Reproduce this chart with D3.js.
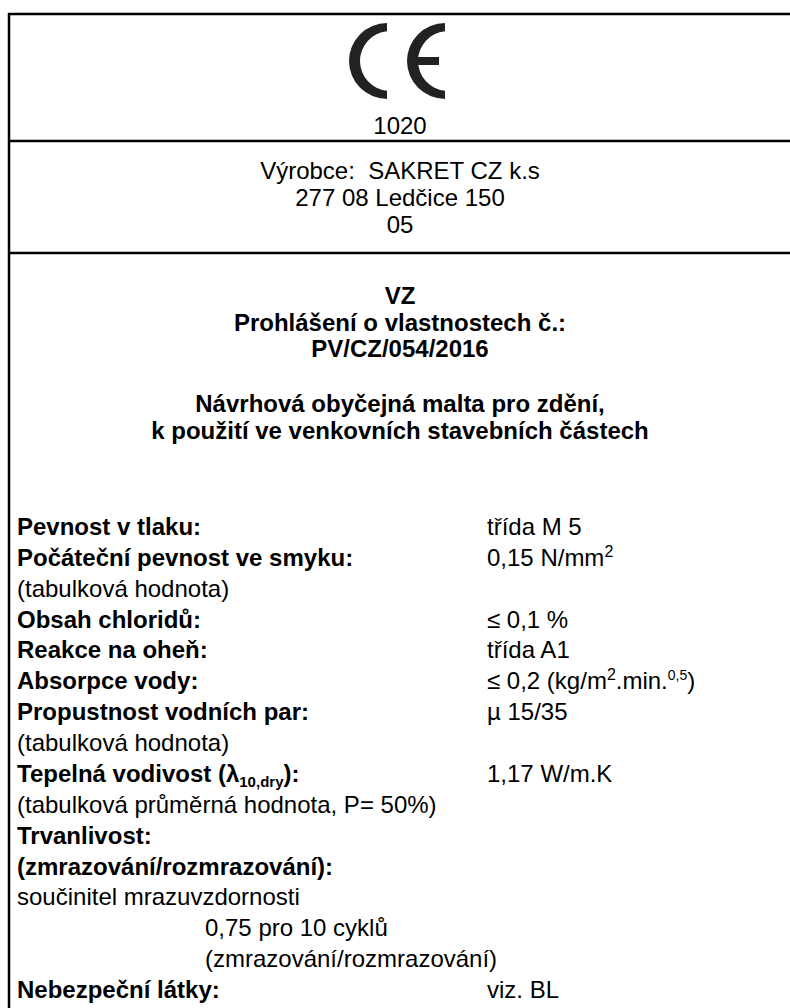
<!DOCTYPE html>
<html>
<head>
<meta charset="utf-8">
<script src="https://cdn.jsdelivr.net/npm/d3@7"></script>
<style>
    body { margin: 0; background: #fff; }
    svg text { font-family: "Liberation Sans", Arial, sans-serif; fill: #000; }
</style>
</head>
<body>
<div id="label"></div>
<script>
// Label content
const notifiedBody = "1020";
const makerLines = ["Výrobce:  SAKRET CZ k.s", "277 08 Ledčice 150", "05"];
const declLines = ["VZ", "Prohlášení o vlastnostech č.:", "PV/CZ/054/2016"];
const productLines = ["Návrhová obyčejná malta pro zdění,", "k použití ve venkovních stavebních částech"];

// property rows: kind = head (bold), note (regular), indent (regular, indented)
const propLabels = [
    "Pevnost v tlaku:",
    "Počáteční pevnost ve smyku:",
    "(tabulková hodnota)",
    "Obsah chloridů:",
    "Reakce na oheň:",
    "Absorpce vody:",
    "Propustnost vodních par:",
    "(tabulková hodnota)",
    "Tepelná vodivost (λ_{10,dry}):",
    "(tabulková průměrná hodnota, P= 50%)",
    "Trvanlivost:",
    "(zmrazování/rozmrazování):",
    "součinitel mrazuvzdornosti",
    "0,75 pro 10 cyklů",
    "(zmrazování/rozmrazování)",
    "Nebezpeční látky:"
];
const propKinds = ["head", "head", "note", "head", "head", "head", "head", "note",
    "head", "note", "head", "head", "note", "indent", "indent", "head"];
const propValues = [
    "třída M 5", "0,15 N/mm^{2}", "", "≤ 0,1 %", "třída A1", "≤ 0,2 (kg/m^{2}.min.^{0,5})",
    "µ 15/35", "", "1,17 W/m.K", "", "", "", "", "", "", "viz. BL"
];

const W = 790, H = 1008;
const fs = 24;

const svg = d3.select("#label").append("svg")
    .attr("width", W).attr("height", H);

// text with ^{sup} and _{sub} parts
function richText(sel, str) {
    const parts = str.split(/(\^\{[^}]*\}|_\{[^}]*\})/).filter(p => p !== "");
    let shift = 0;
    parts.forEach(p => {
        let dy = 0, size = null, t = p;
        if (p.startsWith("^{")) { t = p.slice(2, -1); size = t.length > 1 ? 14 : 16; dy = -9; }
        else if (p.startsWith("_{")) { t = p.slice(2, -1); size = 15; dy = 5; }
        const ts = sel.append("tspan").attr("dy", dy - shift).text(t);
        if (size) ts.style("font-size", size + "px");
        shift = dy;
    });
    if (shift) sel.append("tspan").attr("dy", -shift).text("");
}

// Frame
const frame = svg.append("g").attr("stroke", "#000").attr("stroke-width", 2.5);
frame.append("line").attr("x1", 8).attr("x2", W).attr("y1", 14).attr("y2", 14);
frame.append("line").attr("x1", 9).attr("x2", 9).attr("y1", 13).attr("y2", H);
[141, 253].forEach(y => {
    frame.append("line").attr("x1", 8).attr("x2", W).attr("y1", y).attr("y2", y);
});

// CE mark: left half of a ring, inner circle pushed right so the sides are heavier
function halfRing(R, r, d) {
    const p = d3.path();
    const a = Math.atan2(Math.sqrt(r * r - d * d), -d);
    p.moveTo(0, -R);
    p.arc(0, 0, R, -Math.PI / 2, Math.PI / 2, true);
    p.lineTo(0, Math.sqrt(r * r - d * d));
    p.arc(d, 0, r, a, 2 * Math.PI - a, false);
    p.closePath();
    return p.toString();
}
const ce = svg.append("g").attr("fill", "#222");
ce.append("path").attr("d", halfRing(38, 30, 3)).attr("transform", "translate(387,61)");
ce.append("path").attr("d", halfRing(38, 30, 3)).attr("transform", "translate(445,61)");
ce.append("rect").attr("x", 415).attr("y", 57).attr("width", 24).attr("height", 8);

// Notified body number
svg.append("text").attr("x", 400).attr("y", 134)
    .attr("text-anchor", "middle").style("font-size", fs + "px").text(notifiedBody);

// Maker block
const yMaker = d3.scaleLinear().domain([0, 2]).range([179, 233]);
svg.selectAll(".maker").data(makerLines).enter().append("text")
    .attr("class", "maker")
    .attr("x", 400).attr("y", (d, i) => yMaker(i))
    .attr("text-anchor", "middle").style("font-size", fs + "px")
    .style("white-space", "pre")
    .text(d => d);

// Declaration block
const yDecl = d3.scaleLinear().domain([0, 2]).range([304, 357]);
svg.selectAll(".decl").data(declLines).enter().append("text")
    .attr("class", "decl")
    .attr("x", 400).attr("y", (d, i) => yDecl(i))
    .attr("text-anchor", "middle").style("font-size", fs + "px").style("font-weight", "bold")
    .text(d => d);

const yProd = d3.scaleLinear().domain([0, 1]).range([412, 439]);
svg.selectAll(".prod").data(productLines).enter().append("text")
    .attr("class", "prod")
    .attr("x", 400).attr("y", (d, i) => yProd(i))
    .attr("text-anchor", "middle").style("font-size", fs + "px").style("font-weight", "bold")
    .text(d => d);

// Property rows
const yRow = d3.scaleLinear().domain([0, propLabels.length - 1]).range([535, 998]);
const xCol = d => ({ head: 17, note: 17, indent: 205 })[d];

propLabels.forEach((lab, i) => {
    const t = svg.append("text")
        .attr("x", xCol(propKinds[i])).attr("y", yRow(i))
        .style("font-size", fs + "px")
        .style("font-weight", propKinds[i] === "head" ? "bold" : "normal");
    richText(t, lab);
    if (propValues[i]) {
        const v = svg.append("text").attr("x", 487).attr("y", yRow(i)).style("font-size", fs + "px");
        richText(v, propValues[i]);
    }
});
</script>
</body>
</html>
